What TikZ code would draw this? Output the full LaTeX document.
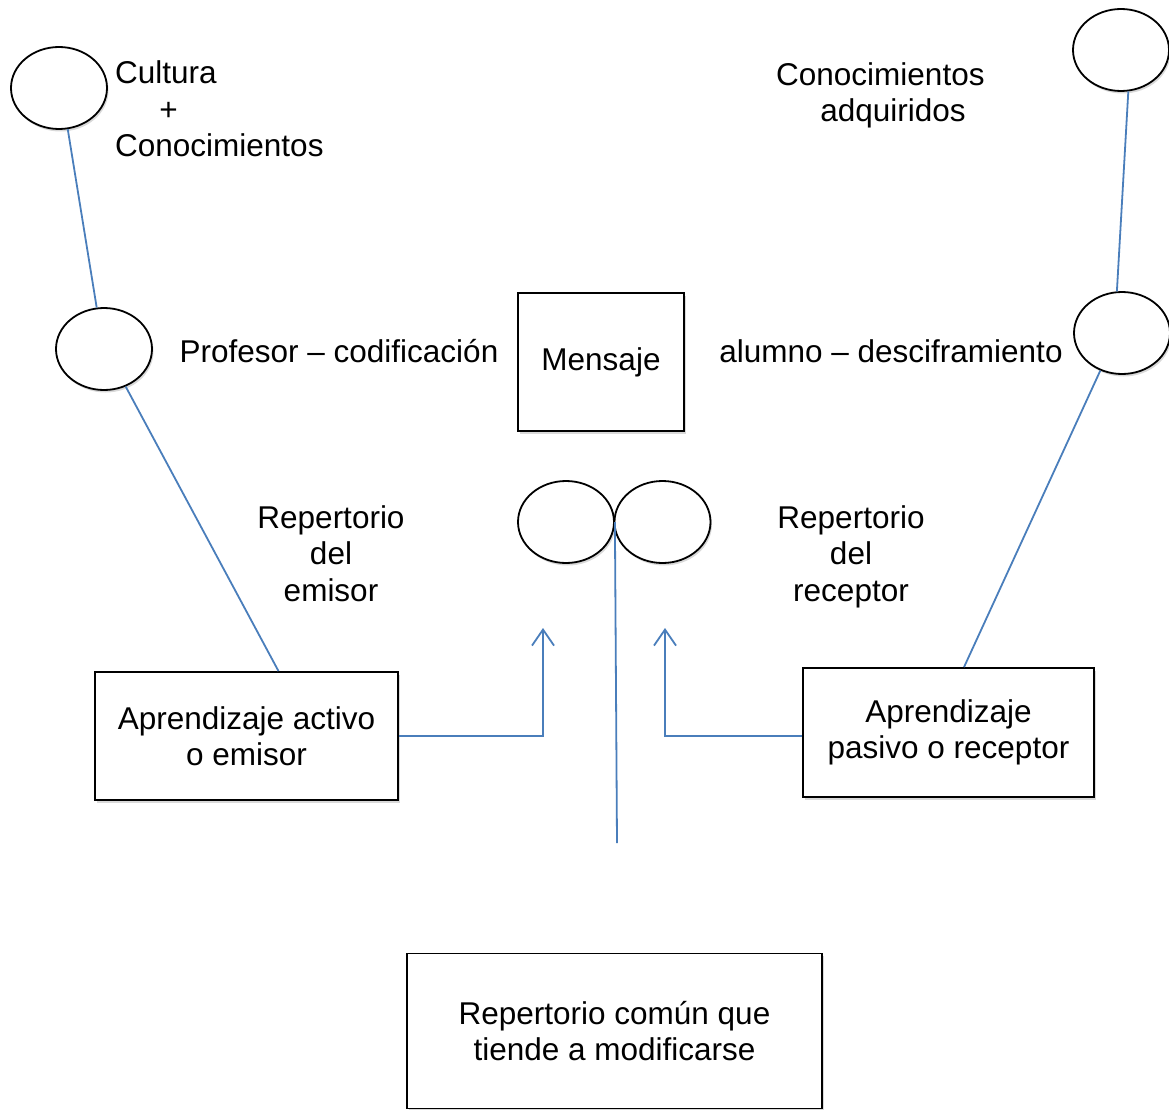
\documentclass[tikz,border=0pt]{standalone}
\usepackage{fontspec}
\setmainfont{Liberation Sans}
\usetikzlibrary{shapes.geometric,arrows.meta,shadows,calc}
\definecolor{linkblue}{RGB}{74,126,187}
\tikzset{
  bubble/.style={ellipse,draw,line width=1.8pt,fill=white,inner sep=0pt,
    minimum width=96pt,minimum height=82pt,
    drop shadow={shadow xshift=1.5pt,shadow yshift=-2.5pt,opacity=0.3}},
  card/.style={rectangle,draw,line width=1.8pt,fill=white,align=center,inner sep=0pt,
    drop shadow={shadow xshift=1.5pt,shadow yshift=-2.5pt,opacity=0.3}},
  words/.style={inner sep=0pt},
  link/.style={draw=linkblue,line width=1.8pt},
  barb/.style={-{Straight Barb[length=16pt,width=22pt]}}
}
\begin{document}
\begin{tikzpicture}[x=1pt,y=-1pt,font=\fontsize{31.5}{36.5}\selectfont]
  \useasboundingbox (0,0) rectangle (1169,1110);
  \node[bubble] (cul) at (59,88) {};
  \node[bubble] (adq) at (1121,50) {};
  \node[bubble] (prof) at (104,349) {};
  \node[bubble] (alum) at (1122,333) {};
  \node[bubble] (remi) at (566,522) {};
  \node[bubble] (rrec) at (662.5,522) {};
  \node[card,minimum width=166pt,minimum height=138pt] (msj) at (601,362) {Mensaje};
  \node[card,minimum width=303pt,minimum height=128pt] (act) at (246.5,736) {Aprendizaje activo\\o emisor};
  \node[card,minimum width=291pt,minimum height=129pt] (pas) at (948.5,732.5) {Aprendizaje\\pasivo o receptor};
  \node[card,minimum width=415pt,minimum height=155pt] (com) at (614.5,1031) {Repertorio común que\\tiende a modificarse};
  \node[words,anchor=base west,align=left] (cult) at (115,157) {Cultura\\\hspace*{1.4em}+\\Conocimientos};
  \node[words,anchor=base west,align=left] (adqt) at (776,122) {Conocimientos\\\hspace*{1.4em}adquiridos};
  \node[words,anchor=base] (proft) at (339,362) {Profesor – codificación};
  \node[words,anchor=base] (alumt) at (891,362) {alumno – desciframiento};
  \node[words,anchor=base,align=center] (remit) at (331,601) {Repertorio\\del\\emisor};
  \node[words,anchor=base,align=center] (rrect) at (851,601) {Repertorio\\del\\receptor};
  \coordinate (tipL) at (543,628);
  \coordinate (tipR) at (665,628);
  \coordinate (foot) at (617,843);
  \begin{scope}[link]
    \draw (cul.-78) -- (prof.100);
    \draw (adq.-80) -- (alum.97);
    \draw (prof.-60) -- ($(act.north west)!0.605!(act.north east)$);
    \draw (alum.-120) -- ($(pas.north west)!0.553!(pas.north east)$);
    \draw[barb] (act.east) -| (tipL);
    \draw[barb] (pas.west |- act.east) -| (tipR);
    \draw (remi.east) -- (foot);
  \end{scope}
\end{tikzpicture}
\end{document}
